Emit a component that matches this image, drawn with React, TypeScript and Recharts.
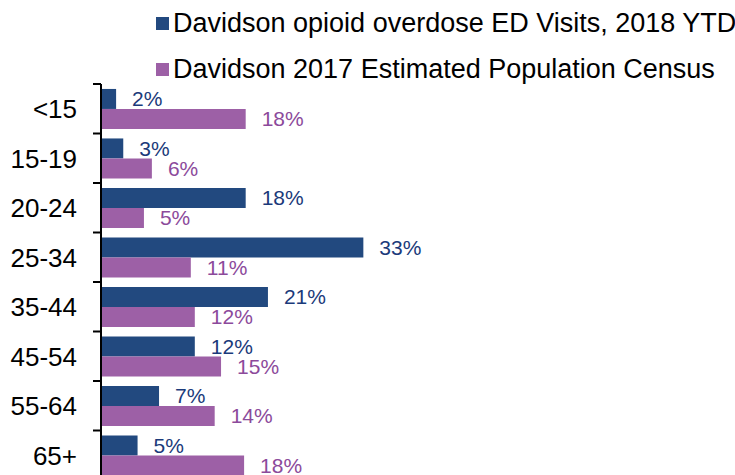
import { BarChart, Bar, XAxis, YAxis, LabelList } from "recharts";

const ageGroups = ["<15", "15-19", "20-24", "25-34", "35-44", "45-54", "55-64", "65+"];
const edVisits = [1.9, 2.8, 18.2, 33.0, 21.0, 11.8, 7.3, 4.6];
const census = [18.2, 6.4, 5.4, 11.3, 11.8, 15.1, 14.3, 18.0];
const seriesNames = [
  "Davidson opioid overdose ED Visits, 2018 YTD",
  "Davidson 2017 Estimated Population Census",
];
const colors = ["#22497f", "#9d60a6"];
const labelColors = ["#1b3a7a", "#8c4a9b"];

const data = ageGroups.map((age, i) => ({ age, ed: edVisits[i], census: census[i] }));

const FONT = '"Liberation Sans", Arial, sans-serif';
const PLOT_TOP = 84;
const PLOT_H = 396;
const BAND = PLOT_H / ageGroups.length;

const AgeTick = (props: any) => {
  const { x, y, payload } = props;
  return (
    <g>
      <line x1={x - 8} x2={x} y1={y - BAND / 2} y2={y - BAND / 2} stroke="#000" strokeWidth={2} />
      <text x={x - 24} y={y} dy="0.36em" textAnchor="end" fontSize={26} fill="#000">
        {payload.value}
      </text>
    </g>
  );
};

const pct = (v: any) => `${Math.round(Number(v))}%`;

export default function App() {
  return (
    <div style={{ position: "relative", width: 735, height: 475, overflow: "hidden", fontFamily: FONT }}>
      <style>{"body{margin:0;overflow:hidden}"}</style>
      <div style={{ position: "absolute", left: 156, top: 0, zIndex: 2 }}>
        {seriesNames.map((name, i) => (
          <div
            key={name}
            style={{ display: "flex", alignItems: "center", height: 46, fontSize: 27, color: "#000", whiteSpace: "nowrap" }}
          >
            <span style={{ display: "inline-block", width: 13, height: 13, background: colors[i], marginRight: 4 }} />
            {name}
          </div>
        ))}
      </div>
      <BarChart
        width={735}
        height={PLOT_TOP + PLOT_H + 10}
        data={data}
        layout="vertical"
        margin={{ top: PLOT_TOP, right: 316, bottom: 10, left: 0 }}
        barCategoryGap="10%"
        barGap={0}
        style={{ fontFamily: FONT }}
      >
        <XAxis type="number" domain={[0, 40]} hide />
        <YAxis
          type="category"
          dataKey="age"
          width={101}
          axisLine={{ stroke: "#000", strokeWidth: 2 }}
          tickLine={false}
          tickSize={0}
          tickMargin={0}
          tick={<AgeTick />}
          interval={0}
        />
        <Bar dataKey="ed" fill={colors[0]} isAnimationActive={false}>
          <LabelList dataKey="ed" position="right" offset={16} formatter={pct} fill={labelColors[0]} fontSize={21} />
        </Bar>
        <Bar dataKey="census" fill={colors[1]} isAnimationActive={false}>
          <LabelList dataKey="census" position="right" offset={16} formatter={pct} fill={labelColors[1]} fontSize={21} />
        </Bar>
      </BarChart>
    </div>
  );
}
